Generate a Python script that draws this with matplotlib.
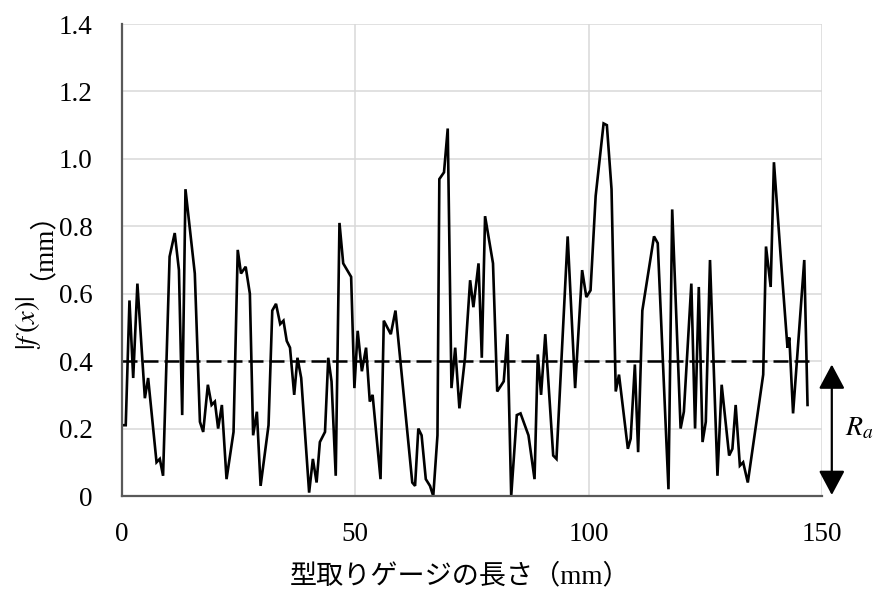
import matplotlib
matplotlib.use("Agg")
import matplotlib.pyplot as plt

plt.rcParams["font.family"] = ["Liberation Serif", "Noto Sans CJK JP"]
plt.rcParams["mathtext.fontset"] = "stix"

# Profile of |f(x)| along the gauge (mm)
position_mm = [
    0.0, 0.8, 1.6, 2.4, 3.3, 4.9, 5.6, 7.4, 8.1, 8.8,
    10.2, 11.3, 12.2, 12.9, 13.6, 15.6, 16.7, 17.4, 18.4, 19.2,
    19.9, 20.6, 21.4, 22.4, 23.9, 24.8, 25.5, 26.5, 27.4, 28.1,
    28.9, 29.7, 31.4, 32.2, 33.0, 33.9, 34.6, 35.3, 36.0, 36.9,
    37.6, 38.4, 40.1, 40.9, 41.7, 42.4, 43.5, 44.2, 44.9, 45.8,
    46.6, 47.4, 49.1, 49.8, 50.5, 51.4, 52.3, 53.1, 53.7, 55.4,
    56.1, 57.6, 58.6, 62.2, 62.8, 63.5, 64.2, 65.1, 66.0, 66.7,
    67.6, 68.0, 69.0, 69.8, 70.6, 71.4, 72.3, 73.5, 74.6, 75.3,
    76.4, 77.1, 77.8, 79.5, 80.4, 81.8, 82.6, 83.4, 84.6, 85.4,
    87.1, 88.4, 89.1, 89.8, 90.7, 92.4, 93.1, 95.5, 97.1, 98.6,
    99.5, 100.4, 101.5, 103.2, 103.9, 104.9, 105.8, 106.5, 108.4, 109.0,
    109.9, 110.6, 111.5, 114.0, 114.8, 117.1, 117.9, 119.7, 120.4, 122.0,
    122.8, 123.6, 124.4, 125.1, 126.0, 127.6, 128.5, 130.1, 130.8, 131.5,
    132.4, 133.1, 134.1, 137.4, 138.0, 139.0, 139.7, 141.2, 142.6, 143.0,
    143.8, 146.2, 146.9,
]
abs_f = [
    0.21, 0.21, 0.58, 0.35, 0.63, 0.29, 0.35, 0.10, 0.11, 0.06,
    0.71, 0.78, 0.67, 0.24, 0.91, 0.66, 0.22, 0.19, 0.33, 0.27,
    0.28, 0.20, 0.27, 0.05, 0.19, 0.73, 0.66, 0.68, 0.60, 0.18,
    0.25, 0.03, 0.21, 0.55, 0.57, 0.51, 0.52, 0.46, 0.44, 0.30,
    0.41, 0.35, 0.01, 0.11, 0.04, 0.16, 0.19, 0.41, 0.34, 0.06,
    0.81, 0.69, 0.65, 0.32, 0.49, 0.37, 0.44, 0.28, 0.30, 0.05,
    0.52, 0.48, 0.55, 0.04, 0.03, 0.20, 0.18, 0.05, 0.03, 0.00,
    0.18, 0.94, 0.96, 1.09, 0.32, 0.44, 0.26, 0.41, 0.64, 0.56,
    0.69, 0.41, 0.83, 0.69, 0.31, 0.34, 0.48, 0.00, 0.24, 0.245,
    0.18, 0.05, 0.42, 0.30, 0.48, 0.12, 0.11, 0.77, 0.32, 0.67,
    0.59, 0.61, 0.89, 1.105, 1.10, 0.91, 0.31, 0.36, 0.14, 0.17,
    0.39, 0.13, 0.55, 0.77, 0.75, 0.02, 0.85, 0.20, 0.25, 0.63,
    0.20, 0.62, 0.16, 0.22, 0.70, 0.06, 0.33, 0.12, 0.14, 0.27,
    0.09, 0.10, 0.04, 0.36, 0.74, 0.62, 0.99, 0.70, 0.44, 0.47,
    0.245, 0.70, 0.27,
]

# Arithmetic mean roughness
ra_value = 0.40
ra_span = [0.0, 147.3]

x_ticks = [0, 50, 100, 150]
x_tick_labels = ["0", "50", "100", "150"]
y_ticks = [0.0, 0.2, 0.4, 0.6, 0.8, 1.0, 1.2, 1.4]
y_tick_labels = ["0", "0.2", "0.4", "0.6", "0.8", "1.0", "1.2", "1.4"]

fig = plt.figure(figsize=(8.81, 5.92), dpi=100)
ax = fig.add_axes([122 / 881, 1 - 496 / 592, 700 / 881, 472 / 592])

ax.set_xlim(0, 150)
ax.set_ylim(0, 1.4)
ax.set_xticks(x_ticks)
ax.set_xticklabels(x_tick_labels)
ax.set_yticks(y_ticks)
ax.set_yticklabels(y_tick_labels)

ax.grid(True, color="#d9d9d9", linewidth=1.1, zorder=0)
ax.set_axisbelow(True)
for side in ("top", "right"):
    ax.spines[side].set_visible(False)
for side in ("left", "bottom"):
    ax.spines[side].set_color("#595959")
    ax.spines[side].set_linewidth(1.6)
    ax.spines[side].set_zorder(5)

ax.tick_params(axis="both", length=0, labelsize=19.5, colors="#000000")
ax.tick_params(axis="y", pad=21)
ax.tick_params(axis="x", pad=19)

ax.plot(position_mm, abs_f, color="black", linewidth=1.9, zorder=3,
        solid_joinstyle="miter")
ax.plot(ra_span, [ra_value, ra_value], color="black", linewidth=1.8,
        linestyle=(0, (6, 2.4)), zorder=4)

# Double-headed arrow marking Ra
ax.annotate("", xy=(152.1, 0.003), xytext=(152.1, 0.39),
            xycoords="data", textcoords="data", annotation_clip=False,
            arrowprops=dict(arrowstyle="<|-|>,head_width=0.4,head_length=0.75",
                            mutation_scale=20, color="black", lw=1.6,
                            shrinkA=0, shrinkB=0))
ax.text(155.0, 0.2, r"$R_a$", fontsize=20, ha="left", va="center",
        clip_on=False)

# Axis titles
fig.text(28 / 881, 1 - 323 / 592, r"$|f\,(x)|$", rotation=90,
         fontsize=20.5, ha="center", va="center")
fig.text(28 / 881, 1 - 232 / 592, "（mm）", rotation=90,
         fontsize=19.5, ha="center", va="center")
fig.text(460 / 881, 1 - 577 / 592, "型取りゲージの長さ（mm）",
         fontsize=19.5, ha="center", va="center")

fig.savefig("out.png", dpi=100)
